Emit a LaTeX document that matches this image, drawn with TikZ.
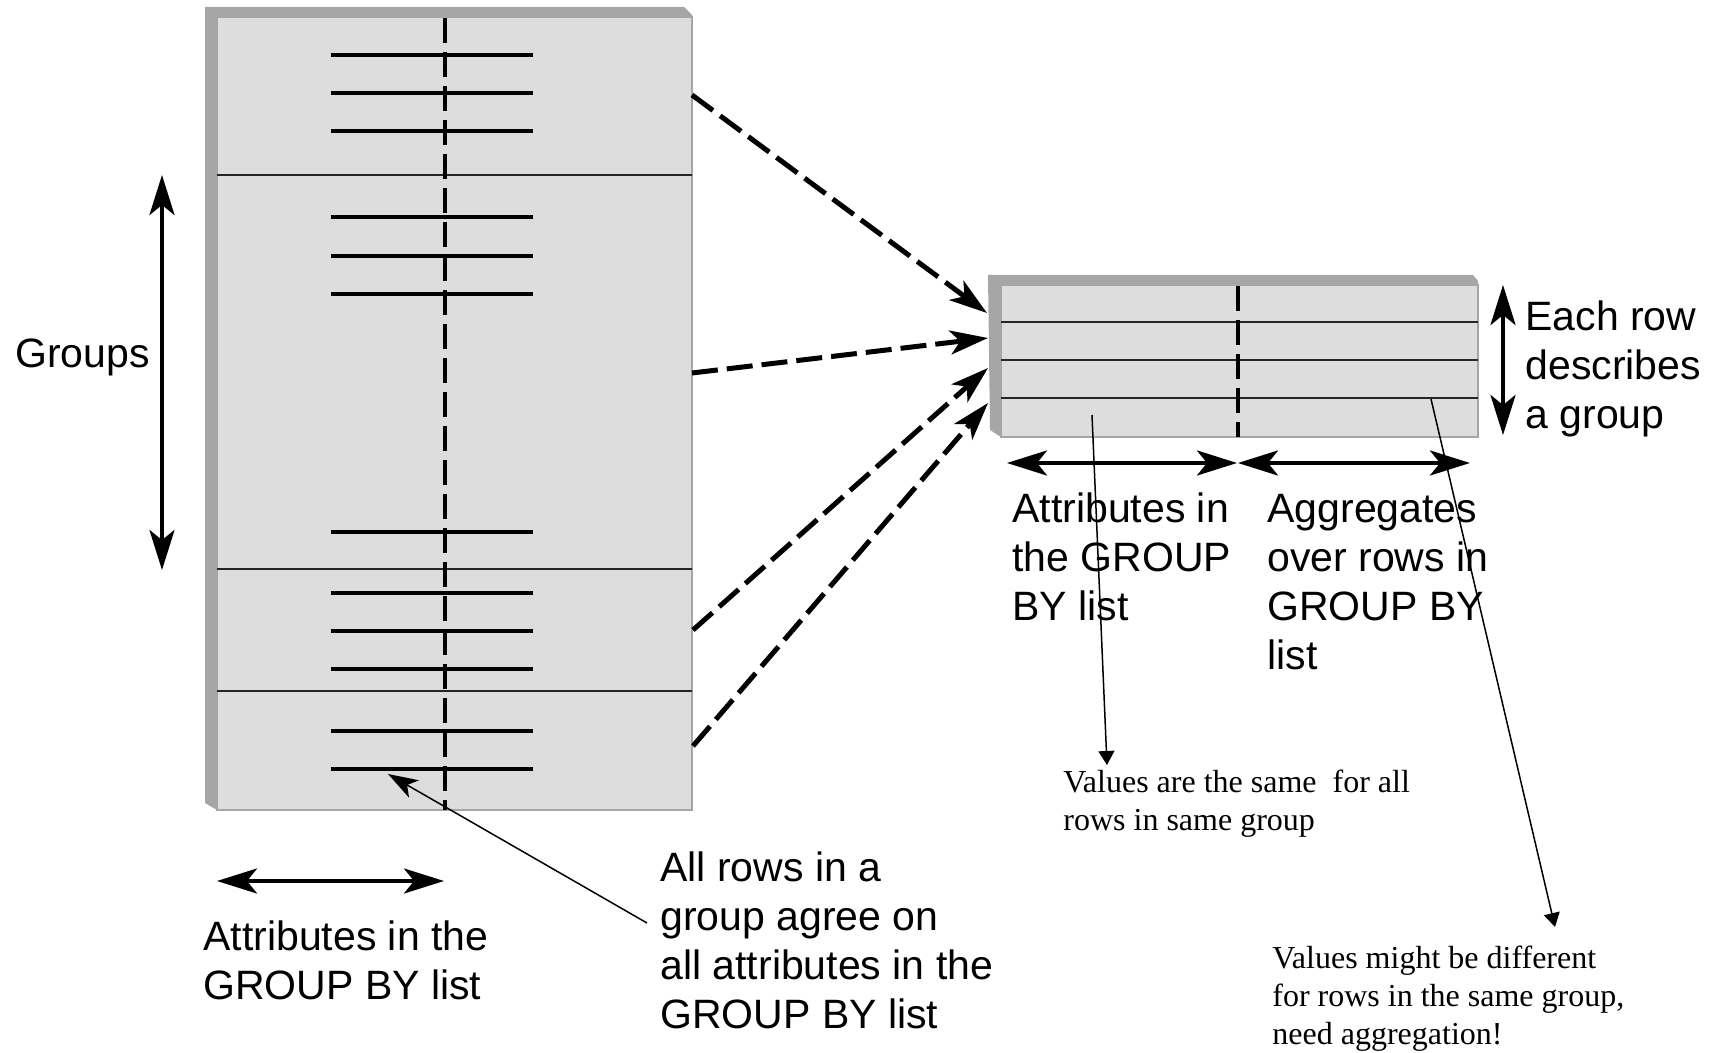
\documentclass[tikz,border=0pt]{standalone}
\usepackage{fontspec}
\setmainfont{Liberation Sans}
\newfontfamily\timesfont{Liberation Serif}
\usetikzlibrary{arrows.meta}
\definecolor{framegray}{HTML}{A6A6A6}
\definecolor{cellgray}{HTML}{DDDDDD}

\begin{document}
\begin{tikzpicture}[x=0.5pt,y=-0.5pt,
    bar/.style={line width=2pt},
    divider/.style={line width=1pt,black!85},
    keyline/.style={line width=2pt,dash pattern=on 12.5pt off 4.5pt},
    copyarrow/.style={line width=2.5pt,dash pattern=on 13pt off 4.5pt,-{Stealth[length=19pt,width=12pt,inset=5pt]}},
    span/.style={line width=2pt,{Stealth[length=20pt,width=12.5pt,inset=5pt]}-{Stealth[length=20pt,width=12.5pt,inset=5pt]}},
    callout/.style={line width=0.75pt,-{Triangle[length=7pt,width=8pt]}},
    label/.style={inner sep=0pt,anchor=base west,align=left,font=\fontsize{20.5pt}{24.5pt}\selectfont},
    remark/.style={inner sep=0pt,anchor=base west,align=left,font=\timesfont\fontsize{16pt}{19pt}\selectfont}]
    \useasboundingbox (0,0) rectangle (1714,1053);

    %left table
    \fill[framegray] (205,7) -- (684,7) -- (692,15) -- (692,810) -- (217,810) -- (205,803) -- cycle;
    \filldraw[fill=cellgray,draw=framegray,line width=1pt] (217,17) rectangle (692,810);
    \draw[divider] (217,175) -- (692,175);
    \draw[divider] (217,569) -- (692,569);
    \draw[divider] (217,691) -- (692,691);
    \draw[bar] (331,55) -- (533,55);
    \draw[bar] (331,93) -- (533,93);
    \draw[bar] (331,131) -- (533,131);
    \draw[bar] (331,217) -- (533,217);
    \draw[bar] (331,256) -- (533,256);
    \draw[bar] (331,294) -- (533,294);
    \draw[bar] (331,532) -- (533,532);
    \draw[bar] (331,593) -- (533,593);
    \draw[bar] (331,631) -- (533,631);
    \draw[bar] (331,669) -- (533,669);
    \draw[bar] (331,731) -- (533,731);
    \draw[bar] (331,769) -- (533,769);
    \draw[keyline] (445,18) -- (445,810);

    %right table
    \fill[framegray] (988,275) -- (1473,275) -- (1478,281) -- (1478,437) -- (1001,437) -- (990,430) -- cycle;
    \filldraw[fill=cellgray,draw=framegray,line width=1pt] (1001,285) rectangle (1478,437);
    \draw[divider] (1001,322) -- (1478,322);
    \draw[divider] (1001,360) -- (1478,360);
    \draw[divider] (1001,398) -- (1478,398);
    \draw[keyline] (1238,286) -- (1238,437);

    %arrow ends
    \coordinate (L1) at (692,95);
    \coordinate (L2) at (692,373);
    \coordinate (L3) at (693,630);
    \coordinate (L4) at (693,746);
    \coordinate (R1) at (987,313);
    \coordinate (R2) at (988,338);
    \coordinate (R3) at (988,368);
    \coordinate (R4) at (988,403);
    \coordinate (GT) at (162,175);
    \coordinate (GB) at (162,570);
    \coordinate (ET) at (1503,285);
    \coordinate (EB) at (1503,435);
    \coordinate (KL) at (1007,463);
    \coordinate (KM) at (1237,463);
    \coordinate (AM) at (1238,463);
    \coordinate (AR) at (1470,463);
    \coordinate (BL) at (217,881);
    \coordinate (BR) at (444,881);
    \coordinate (C1) at (647,923);
    \coordinate (B12) at (388,774);
    \coordinate (C2) at (1092,415);
    \coordinate (V1) at (1107,765);
    \coordinate (C3) at (1431,399);
    \coordinate (V2) at (1555,927);

    %labels (placed at last baseline)
    \node (groups) at (15,368) [label]{Groups};
    \node (eachrow) at (1525,429) [label]{Each row\\describes\\a group};
    \node (attrR) at (1012,620) [label]{Attributes in\\the GROUP\\BY list};
    \node (aggr) at (1267,669) [label]{Aggregates\\over rows in\\GROUP BY\\list};
    \node (attrL) at (203,999) [label]{Attributes in the\\GROUP BY list};
    \node (agree) at (660,1028) [label]{All rows in a\\group agree on\\all attributes in the\\GROUP BY list};
    \node (same) at (1063,830) [remark]{Values are the same\ \ for all\\rows in same group};
    \node (differ) at (1272,1044) [remark]{Values might be different\\for rows in the same group,\\need aggregation!};

    %group to row
    \draw [copyarrow] (L1) to (R1);
    \draw [copyarrow] (L2) to (R2);
    \draw [copyarrow] (L3) to (R3);
    \draw [copyarrow] (L4) to (R4);

    %spans
    \draw [span] (GT) to (GB);
    \draw [span] (ET) to (EB);
    \draw [span] (KL) to (KM);
    \draw [span] (AM) to (AR);
    \draw [span] (BL) to (BR);

    %callouts
    \draw [line width=0.75pt,-{Stealth[length=15pt,width=10pt,inset=4pt]}] (C1) to (B12);
    \draw [callout] (C2) to (V1);
    \draw [callout] (C3) to (V2);
\end{tikzpicture}
\end{document}
